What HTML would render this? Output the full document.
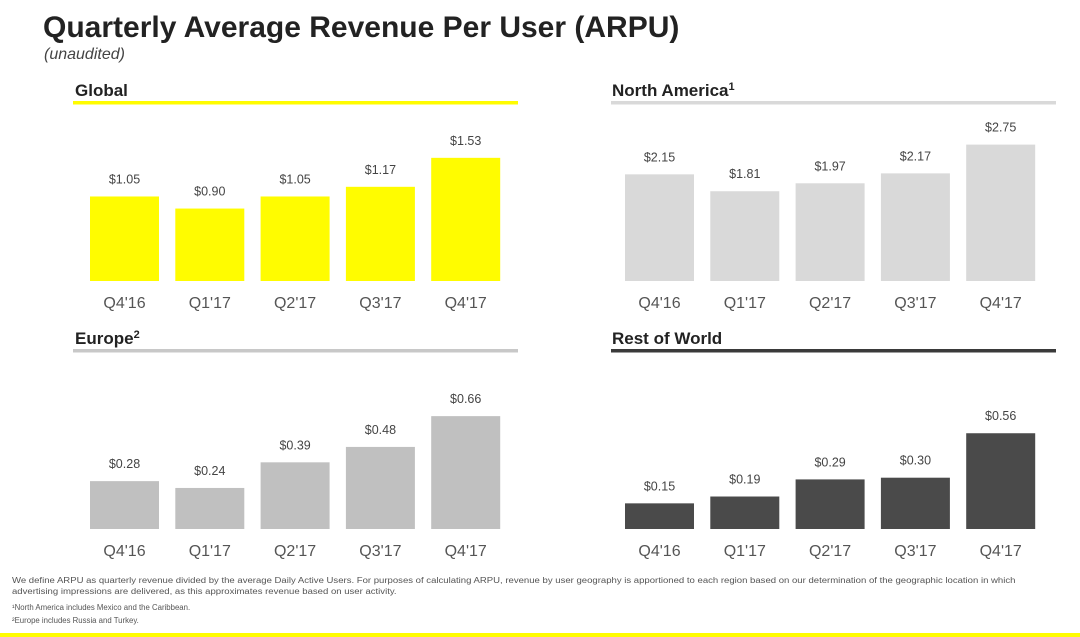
<!DOCTYPE html>
<html><head><meta charset="utf-8"><style>
body{margin:0;width:1080px;height:637px;background:#fff;font-family:"Liberation Sans",sans-serif;position:relative;overflow:hidden}
.t{position:absolute;white-space:nowrap}
</style></head><body>
<div class="t" style="left:43px;top:11px;font-size:30px;font-weight:bold;color:#222">Quarterly Average Revenue Per User (ARPU)</div>
<div class="t" style="left:44px;top:46px;font-size:16px;font-style:italic;color:#444">(unaudited)</div>
<svg id="c" width="1080" height="637" style="position:absolute;left:0;top:0"></svg>
<div class="t" style="left:12px;top:575px;font-size:7.9px;color:#555;line-height:11px;transform:scaleX(1.21);transform-origin:0 0">We define ARPU as quarterly revenue divided by the average Daily Active Users. For purposes of calculating ARPU, revenue by user geography is apportioned to each region based on our determination of the geographic location in which<br>advertising impressions are delivered, as this approximates revenue based on user activity.</div>
<div class="t" style="left:12px;top:603px;font-size:7.8px;color:#555">¹North America includes Mexico and the Caribbean.</div>
<div class="t" style="left:12px;top:616px;font-size:7.8px;color:#555">²Europe includes Russia and Turkey.</div>
<div style="position:absolute;left:0;top:633px;width:1080px;height:4px;background:#fffc00"></div>
<script>
const categories=["Q4'16","Q1'17","Q2'17","Q3'17","Q4'17"];
const globalValues=[1.05,0.90,1.05,1.17,1.53];
const northAmericaValues=[2.15,1.81,1.97,2.17,2.75];
const europeValues=[0.28,0.24,0.39,0.48,0.66];
const restOfWorldValues=[0.15,0.19,0.29,0.30,0.56];
const panels=[
 {name:"global",title:"Global",vals:globalValues,x0:90,base:281,scale:80.5,color:"#fffc00",rule:"#fffc00",rx:73,ry:101,tx:75,sup:""},
 {name:"north-america",title:"North America",vals:northAmericaValues,x0:625,base:281,scale:49.6,color:"#d9d9d9",rule:"#d9d9d9",rx:611,ry:101,tx:612,sup:"1"},
 {name:"europe",title:"Europe",vals:europeValues,x0:90,base:529,scale:171,color:"#c0c0c0",rule:"#c8c8c8",rx:73,ry:349,tx:75,sup:"2"},
 {name:"rest-of-world",title:"Rest of World",vals:restOfWorldValues,x0:625,base:529,scale:171,color:"#4a4a4a",rule:"#3a3a3a",rx:611,ry:349,tx:612,sup:""}
];
const svg=document.getElementById('c');const NS="http://www.w3.org/2000/svg";
function mk(t,a,p){const e=document.createElementNS(NS,t);for(const k in a)e.setAttribute(k,a[k]);(p||svg).appendChild(e);return e;}
panels.forEach(p=>{
 const g=mk('g',{});
 
 
 const r=mk('rect',{x:p.rx,y:p.ry,width:445,height:3.5,fill:p.rule},g);
 
 
 const tt=mk('text',{x:p.tx,y:p.ry-5,'font-size':17,'font-weight':'bold',fill:'#222'},g);
 tt.textContent=p.title;
 if(p.sup){const s=mk('tspan',{'font-size':11,dy:-6},tt);s.textContent=p.sup;}
 
 
 const xs=i=>p.x0+i*85.3;
 p.vals.forEach((v,i)=>{
  const h=v*p.scale;
  const b=mk('rect',{x:xs(i),y:p.base-h,width:69,height:h,fill:p.color},g);
  
  
  const l=mk('text',{x:xs(i)+34.5,y:p.base-h-13,'text-anchor':'middle','font-size':12.5,fill:'#444'},g);
  l.textContent='$'+v.toFixed(2);
  
  
  const c=mk('text',{x:xs(i)+34.5,y:p.base+27,'text-anchor':'middle','font-size':16,fill:'#555'},g);
  c.textContent=categories[i];
  
  
 });
});
</script>
</body></html>
